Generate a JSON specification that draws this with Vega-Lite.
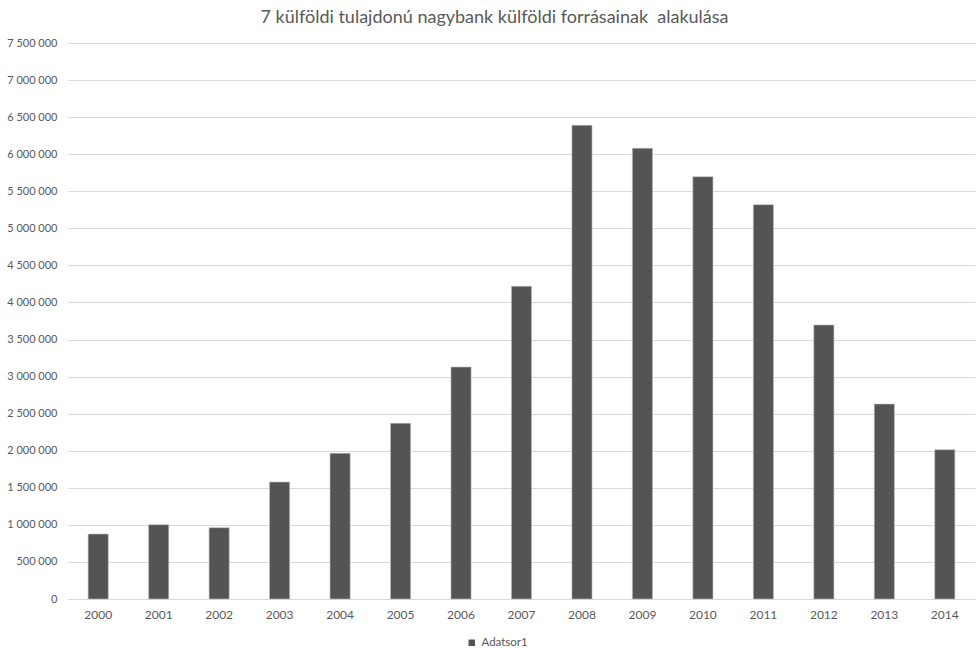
{
  "$schema": "https://vega.github.io/schema/vega-lite/v6.json",
  "autosize": {"type": "none"},
  "width": 907,
  "height": 556,
  "padding": {"left": 68, "top": 43, "right": 2, "bottom": 49},
  "background": "white",
  "title": {
    "text": "7 külföldi tulajdonú nagybank külföldi forrásainak \u00a0alakulása",
    "anchor": "middle",
    "dx": -27,
    "offset": 10,
    "font": "Lato",
    "fontSize": 18,
    "fontWeight": "normal",
    "color": "#595959"
  },
  "data": {
    "values": [
      {"ev": "2000", "sorozat": "Adatsor1", "ertek": 877000},
      {"ev": "2001", "sorozat": "Adatsor1", "ertek": 1002000},
      {"ev": "2002", "sorozat": "Adatsor1", "ertek": 962000},
      {"ev": "2003", "sorozat": "Adatsor1", "ertek": 1578000},
      {"ev": "2004", "sorozat": "Adatsor1", "ertek": 1965000},
      {"ev": "2005", "sorozat": "Adatsor1", "ertek": 2370000},
      {"ev": "2006", "sorozat": "Adatsor1", "ertek": 3129000},
      {"ev": "2007", "sorozat": "Adatsor1", "ertek": 4218000},
      {"ev": "2008", "sorozat": "Adatsor1", "ertek": 6390000},
      {"ev": "2009", "sorozat": "Adatsor1", "ertek": 6080000},
      {"ev": "2010", "sorozat": "Adatsor1", "ertek": 5697000},
      {"ev": "2011", "sorozat": "Adatsor1", "ertek": 5319000},
      {"ev": "2012", "sorozat": "Adatsor1", "ertek": 3696000},
      {"ev": "2013", "sorozat": "Adatsor1", "ertek": 2630000},
      {"ev": "2014", "sorozat": "Adatsor1", "ertek": 2014000}
    ]
  },
  "mark": {"type": "bar", "stroke": "#bfbfbf", "strokeWidth": 0.6},
  "encoding": {
    "x": {
      "field": "ev",
      "type": "ordinal",
      "scale": {"paddingInner": 0.667, "paddingOuter": 0.333},
      "axis": {
        "title": null,
        "labelAngle": 0,
        "ticks": false,
        "domain": true,
        "domainColor": "#d9d9d9",
        "domainWidth": 1,
        "labelPadding": 10,
        "labelFont": "Lato",
        "labelFontSize": 12,
        "labelColor": "#595959"
      }
    },
    "y": {
      "field": "ertek",
      "type": "quantitative",
      "scale": {"domain": [0, 7500000], "nice": false},
      "axis": {
        "title": null,
        "values": [0, 500000, 1000000, 1500000, 2000000, 2500000, 3000000, 3500000, 4000000, 4500000, 5000000, 5500000, 6000000, 6500000, 7000000, 7500000],
        "format": ",d",
        "domain": false,
        "ticks": false,
        "grid": true,
        "gridColor": "#d9d9d9",
        "gridWidth": 1,
        "labelPadding": 11,
        "labelFont": "Lato",
        "labelFontSize": 11,
        "labelColor": "#595959"
      }
    },
    "color": {
      "field": "sorozat",
      "type": "nominal",
      "scale": {"range": ["#545454"]},
      "legend": {
        "title": null,
        "orient": "none",
        "legendX": 398,
        "legendY": 594,
        "direction": "horizontal",
        "symbolType": "square",
        "symbolSize": 42,
        "symbolStrokeWidth": 0,
        "labelFont": "Lato",
        "labelFontSize": 11.5,
        "labelColor": "#595959",
        "labelOffset": 4
      }
    }
  },
  "config": {
    "locale": {
      "number": {
        "decimal": ",",
        "thousands": " ",
        "grouping": [3],
        "currency": ["", " Ft"]
      }
    },
    "view": {"stroke": null}
  }
}
